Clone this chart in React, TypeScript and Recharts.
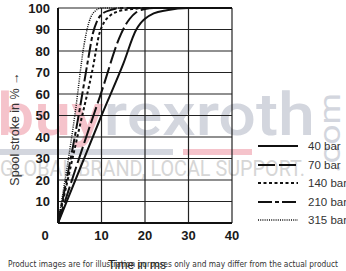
import { LineChart, Line, XAxis, YAxis, CartesianGrid } from 'recharts';

const X_TICKS = [0, 10, 20, 30, 40];
const Y_TICKS = [0, 10, 20, 30, 40, 50, 60, 70, 80, 90, 100];

// time in ms / spool stroke in %
const time40 = [0, 5, 10, 15, 18, 19, 20, 22, 25, 30, 40];
const stroke40 = [0, 25, 50, 74, 90, 93, 95, 97.5, 99, 100, 100];

const time70 = [0, 5, 10, 14.5, 15.5, 16.5, 18, 20, 22, 40];
const stroke70 = [0, 31, 61, 88, 92, 95, 98, 99.5, 100, 100];

const time140 = [0, 5, 8, 9.5, 10.5, 12, 14, 17, 20, 40];
const stroke140 = [0, 45, 72, 88, 93, 96.5, 98.5, 99.5, 100, 100];

const time210 = [0, 5, 7, 8, 9, 10, 12, 15, 40];
const stroke210 = [0, 53, 77, 88, 94, 97, 99, 100, 100];

const time315 = [0, 4, 6, 6.8, 7.6, 8.5, 10, 40];
const stroke315 = [0, 52, 83, 91, 96, 98.5, 100, 100];

const SERIES = [
  { name: '40 bar', t: time40, v: stroke40, dash: undefined, width: 2 },
  { name: '70 bar', t: time70, v: stroke70, dash: '17 4', width: 2 },
  { name: '140 bar', t: time140, v: stroke140, dash: '3 2.5', width: 2 },
  { name: '210 bar', t: time210, v: stroke210, dash: '14 3 4 3', width: 2 },
  { name: '315 bar', t: time315, v: stroke315, dash: '1 1.2', width: 1.5 },
];

const toPoints = (t: number[], v: number[]) => t.map((x, i) => ({ t: x, v: v[i] }));

const TICK_FONT = { fontFamily: '"Liberation Sans", Arial, sans-serif', fontSize: 13, fontWeight: 700, fill: '#1a1a1a' };

function XTick(props: any) {
  const { x, y, payload } = props;
  const dx = payload.value === 0 ? -13 : 0;
  return (
    <text x={x + dx} y={y} textAnchor="middle" dominantBaseline="central" {...TICK_FONT}>
      {payload.value}
    </text>
  );
}

function YTick(props: any) {
  const { x, y, payload } = props;
  if (payload.value === 0) return <g />;
  return (
    <text x={x} y={y} textAnchor="end" dominantBaseline="central" {...TICK_FONT}>
      {payload.value}
    </text>
  );
}

function Watermark() {
  return (
    <svg width={346} height={271} style={{ position: 'absolute', left: 0, top: 0 }}>
      <text x={-3} y={135} fontFamily='Roboto, "Liberation Sans", sans-serif' fontWeight={500} fontSize={60} textLength={318} lengthAdjust="spacingAndGlyphs">
        <tspan fill="#f5c3cb">buy</tspan>
        <tspan fill="#d3d6de">rexroth</tspan>
      </text>
      <rect x={0} y={149} width={173} height={6} fill="#d3d6de" />
      <rect x={183} y={149} width={69} height={6} fill="#f5c3cb" />
      <text x={0} y={176} fontFamily='Roboto, "Liberation Sans", sans-serif' fontSize={22} fill="#d6d6d6" textLength={305} lengthAdjust="spacingAndGlyphs">
        GLOBAL BRAND, LOCAL SUPPORT.
      </text>
      <text transform="translate(340 173) rotate(-90)" fontFamily='Roboto, "Liberation Sans", sans-serif' fontSize={30} fill="#d3d6de" textLength={80} lengthAdjust="spacingAndGlyphs">
        .com
      </text>
    </svg>
  );
}

function LegendBox() {
  return (
    <div style={{ position: 'absolute', left: 258, top: 137 }}>
      {SERIES.map((s) => (
        <div key={s.name} style={{ height: 18.5, display: 'flex', alignItems: 'center' }}>
          <svg width={40} height={10}>
            <line x1={0} y1={5} x2={40} y2={5} stroke="#111" strokeWidth={s.width} strokeDasharray={s.dash} />
          </svg>
          <span style={{ marginLeft: 10, fontFamily: '"Liberation Sans", Arial, sans-serif', fontSize: 11.5, color: '#333', whiteSpace: 'nowrap' }}>
            {s.name}
          </span>
        </div>
      ))}
    </div>
  );
}

export default function App() {
  return (
    <div style={{ position: 'absolute', left: 0, top: 0, width: 346, height: 271, overflow: 'hidden', background: '#fff' }}>
      <Watermark />
      <div style={{ position: 'absolute', left: 0, top: 0 }}>
        <LineChart
          width={346}
          height={271}
          data={toPoints(time40, stroke40)}
          margin={{ top: 8, right: 114, left: 0, bottom: 0 }}
        >
          <CartesianGrid stroke="#222" strokeWidth={1.2} strokeOpacity={1} horizontal vertical />
          <XAxis
            type="number"
            dataKey="t"
            domain={[0, 40]}
            ticks={X_TICKS}
            interval={0}
            height={48}
            tick={<XTick />}
            tickLine={false}
            tickSize={0}
            tickMargin={12}
            axisLine={{ stroke: '#111', strokeWidth: 2 }}
          />
          <YAxis
            type="number"
            domain={[0, 100]}
            ticks={Y_TICKS}
            interval={0}
            width={58}
            tick={<YTick />}
            tickLine={false}
            tickSize={0}
            tickMargin={8}
            axisLine={{ stroke: '#111', strokeWidth: 2 }}
          />
          {SERIES.map((s, i) => (
            <Line
              key={s.name}
              data={i === 0 ? undefined : toPoints(s.t, s.v)}
              dataKey="v"
              type="monotone"
              stroke="#111"
              strokeWidth={s.width}
              strokeDasharray={s.dash}
              dot={false}
              activeDot={false}
              isAnimationActive={false}
            />
          ))}
        </LineChart>
      </div>
      <LegendBox />
      <svg width={346} height={271} style={{ position: 'absolute', left: 0, top: 0, pointerEvents: 'none' }}>
        <text transform="translate(19 129) rotate(-90)" textAnchor="middle" fontFamily='"Liberation Sans", Arial, sans-serif' fontSize={12.5} fill="#333">
          Spool stroke in % →
        </text>
        <text x={137} y={269} textAnchor="middle" fontFamily='"Liberation Sans", Arial, sans-serif' fontSize={12} fill="#222">
          Time in ms
        </text>
        <text x={8} y={267} fontFamily='"DejaVu Sans", sans-serif' fontSize={8.5} fill="#333" textLength={330} lengthAdjust="spacingAndGlyphs">
          Product images are for illustration purposes only and may differ from the actual product
        </text>
      </svg>
    </div>
  );
}
